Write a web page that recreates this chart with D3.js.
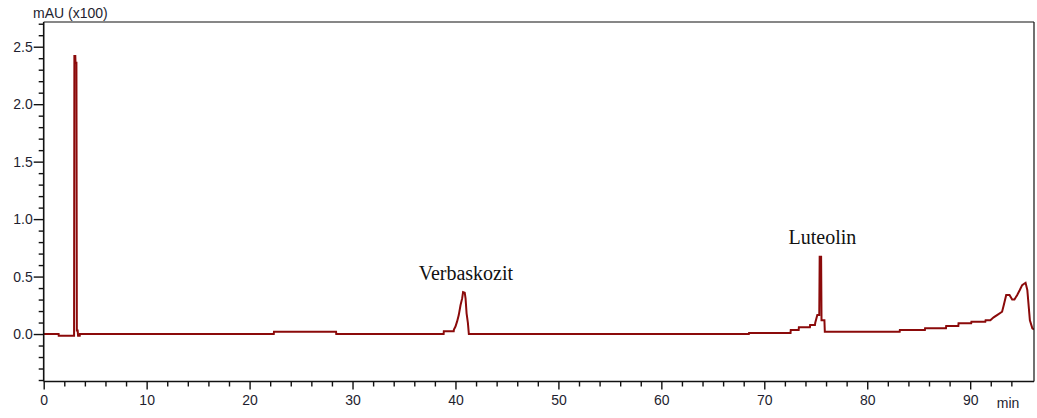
<!DOCTYPE html>
<html>
<head>
<meta charset="utf-8">
<script src="https://cdn.jsdelivr.net/npm/d3@7"></script>
<style>
  html, body { margin: 0; padding: 0; background: #ffffff; }
  svg { display: block; }
</style>
</head>
<body>
<svg id="chart" width="1037" height="418"></svg>
<script>
// Retention time (min) and detector signal (mAU x100)
const timeMin = [
  0, 1.45, 1.46, 2.95, 2.98, 3.07, 3.09, 3.18, 3.22, 3.30, 3.34, 3.50, 3.52,
  22.35, 22.37, 28.40, 28.42,
  38.85, 38.87, 39.83, 39.85, 40.00, 40.16, 40.32, 40.49, 40.65, 40.74, 40.90, 40.98, 41.08, 41.21, 41.30,
  68.50, 68.52,
  72.55, 72.57, 73.34, 73.36, 74.43, 74.45, 74.92, 74.95, 75.15, 75.34, 75.38, 75.52, 75.56, 75.84, 75.88,
  83.15, 83.17, 85.60, 85.62, 87.65, 87.67, 88.85, 88.87, 90.10, 90.12, 91.47, 91.50, 91.96,
  92.28, 92.61, 93.10, 93.26, 93.50, 93.82, 94.08, 94.30, 94.57, 94.82, 95.05, 95.38, 95.55, 95.80, 96.04, 96.20
];
const signal = [
  0, 0, -0.015, -0.015, 2.42, 2.42, 2.36, 2.36, 0.03, 0.03, -0.015, -0.015, 0,
  0, 0.02, 0.02, 0,
  0, 0.025, 0.025, 0.04, 0.065, 0.11, 0.165, 0.25, 0.31, 0.365, 0.36, 0.31, 0.18, 0.095, 0,
  0, 0.01,
  0.01, 0.035, 0.035, 0.058, 0.058, 0.078, 0.078, 0.098, 0.165, 0.165, 0.673, 0.673, 0.12, 0.12, 0.02,
  0.02, 0.035, 0.035, 0.05, 0.05, 0.07, 0.07, 0.093, 0.093, 0.107, 0.107, 0.12, 0.12,
  0.145, 0.165, 0.194, 0.25, 0.34, 0.34, 0.30, 0.30, 0.34, 0.383, 0.426, 0.446, 0.383, 0.12, 0.05, 0.04
];

// Axis ticks
const xMajorTicks = [0, 10, 20, 30, 40, 50, 60, 70, 80, 90];
const xMinorTicks = [2, 4, 6, 8, 12, 14, 16, 18, 22, 24, 26, 28, 32, 34, 36, 38, 42, 44, 46, 48,
  52, 54, 56, 58, 62, 64, 66, 68, 72, 74, 76, 78, 82, 84, 86, 88, 92, 94];
const yMajorTicks = [0.0, 0.5, 1.0, 1.5, 2.0, 2.5];
const yMinorTicks = [-0.4, -0.3, -0.2, -0.1, 0.1, 0.2, 0.3, 0.4, 0.6, 0.7, 0.8, 0.9,
  1.1, 1.2, 1.3, 1.4, 1.6, 1.7, 1.8, 1.9, 2.1, 2.2, 2.3, 2.4, 2.6, 2.7];

// Compound annotations
const peakNames = ["Verbaskozit", "Luteolin"];
const peakTimes = [40.82, 75.45];
const peakValues = [0.365, 0.673];

const plot = { left: 43.7, right: 1034, top: 22, bottom: 381.5 };
const textColor = "#1e1e30";
const traceColor = "#8b0a0a";

const svg = d3.select("#chart");

const x = d3.scaleLinear().domain([0, 96.2]).range([plot.left, plot.right]);
const y = d3.scaleLinear().domain([-0.413, 2.715]).range([plot.bottom, plot.top]);

// Clip for the trace
svg.append("defs").append("clipPath").attr("id", "plotClip")
  .append("rect")
  .attr("x", plot.left).attr("y", plot.top)
  .attr("width", plot.right - plot.left).attr("height", plot.bottom - plot.top);

// Trace
const points = timeMin.map((t, i) => [t, signal[i]]);
const line = d3.line().x(d => x(d[0])).y(d => y(d[1]));
svg.append("path")
  .datum(points)
  .attr("clip-path", "url(#plotClip)")
  .attr("d", line)
  .attr("fill", "none")
  .attr("stroke", traceColor)
  .attr("stroke-width", 2)
  .attr("stroke-linejoin", "miter");

// Frame: top and right thin, left and bottom axis lines heavier
svg.append("line").attr("x1", plot.left).attr("x2", plot.right).attr("y1", plot.top).attr("y2", plot.top)
  .attr("stroke", "#111").attr("stroke-width", 1.2);
svg.append("line").attr("x1", plot.right).attr("x2", plot.right).attr("y1", plot.top).attr("y2", plot.bottom)
  .attr("stroke", "#111").attr("stroke-width", 1.2);
svg.append("line").attr("x1", plot.left).attr("x2", plot.left).attr("y1", plot.top).attr("y2", plot.bottom)
  .attr("stroke", "#111").attr("stroke-width", 1.6);
svg.append("line").attr("x1", plot.left).attr("x2", plot.right).attr("y1", plot.bottom).attr("y2", plot.bottom)
  .attr("stroke", "#111").attr("stroke-width", 1.6);

function styleAxis(g) {
  g.select(".domain").remove();
  g.selectAll(".tick line").attr("stroke", "#111").attr("stroke-width", 1.4);
  g.selectAll(".tick text")
    .attr("fill", textColor)
    .style("font-family", "'Liberation Sans', Arial, sans-serif")
    .style("font-size", "14px");
}

// X axis
svg.append("g").attr("transform", `translate(0,${plot.bottom})`)
  .call(d3.axisBottom(x).tickValues(xMinorTicks).tickSize(5).tickFormat(""))
  .call(styleAxis);
svg.append("g").attr("transform", `translate(0,${plot.bottom})`)
  .call(d3.axisBottom(x).tickValues(xMajorTicks).tickSize(8).tickPadding(6).tickFormat(d3.format("d")))
  .call(styleAxis);

// Y axis
svg.append("g").attr("transform", `translate(${plot.left},0)`)
  .call(d3.axisLeft(y).tickValues(yMinorTicks).tickSize(5).tickFormat(""))
  .call(styleAxis);
svg.append("g").attr("transform", `translate(${plot.left},0)`)
  .call(d3.axisLeft(y).tickValues(yMajorTicks).tickSize(10).tickPadding(1).tickFormat(d3.format(".1f")))
  .call(styleAxis);

// Axis unit labels
svg.append("text")
  .attr("x", 33).attr("y", 17.5)
  .attr("fill", textColor)
  .style("font-family", "'Liberation Sans', Arial, sans-serif")
  .style("font-size", "14px")
  .text("mAU (x100)");
svg.append("text")
  .attr("x", 1008).attr("y", 407.5)
  .attr("text-anchor", "middle")
  .attr("fill", textColor)
  .style("font-family", "'Liberation Sans', Arial, sans-serif")
  .style("font-size", "14px")
  .text("min");

// Peak names
svg.selectAll("text.peak")
  .data(peakNames)
  .join("text")
  .attr("class", "peak")
  .attr("x", (d, i) => x(peakTimes[i]) + 2)
  .attr("y", (d, i) => y(peakValues[i]) - 12.5)
  .attr("text-anchor", "middle")
  .attr("fill", "#111")
  .style("font-family", "'Liberation Serif', 'Times New Roman', serif")
  .style("font-size", "20px")
  .text(d => d);
</script>
</body>
</html>
